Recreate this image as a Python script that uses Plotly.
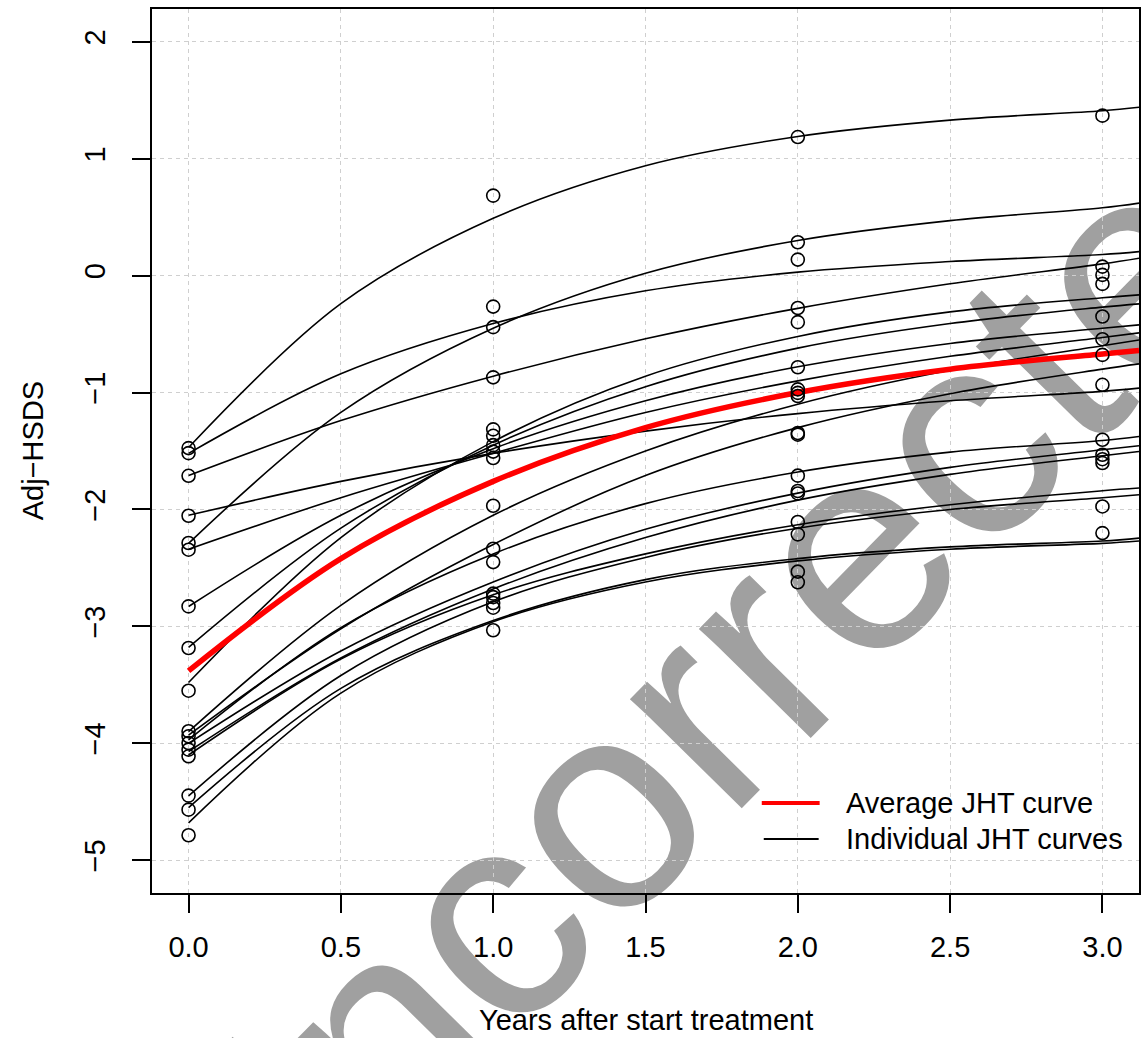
import base64
import plotly.graph_objects as go

# ---------------- data ----------------
obs_times = [0, 1, 2, 3]
obs_t0 = [-1.475, -1.518, -1.712, -2.054, -2.287, -2.344, -2.829, -3.185, -3.550,
          -3.897, -3.940, -3.997, -4.054, -4.111, -4.447, -4.567, -4.786]
obs_t1 = [0.684, -0.265, -0.441, -0.87, -1.315, -1.37, -1.45, -1.505, -1.56,
          -1.968, -2.336, -2.450, -2.72, -2.75, -2.80, -2.84, -3.033]
obs_t2 = [1.185, 0.285, 0.137, -0.277, -0.398, -0.784, -0.973, -1.003, -1.03,
          -1.346, -1.36, -1.711, -1.842, -1.863, -2.107, -2.213, -2.532, -2.623]
obs_t3 = [1.368, 0.077, 0.006, -0.071, -0.350, -0.544, -0.678, -0.934, -1.404,
          -1.532, -1.570, -1.603, -1.974, -2.202]

curve_times = [0, 0.5, 1, 1.5, 2, 2.5, 3, 3.12]
avg_curve = [-3.38, -2.42, -1.76, -1.30, -1.00, -0.80, -0.67, -0.64]

curve_a = [-1.47, -0.24, 0.49, 0.94, 1.19, 1.33, 1.41, 1.44]
curve_b = [-1.52, -0.84, -0.41, -0.13, 0.03, 0.12, 0.18, 0.205]
curve_c = [-1.71, -1.24, -0.86, -0.54, -0.28, -0.07, 0.10, 0.149]
curve_d = [-2.05, -1.76, -1.52, -1.33, -1.18, -1.07, -0.99, -0.962]
curve_e = [-2.29, -1.17, -0.45, 0.02, 0.30, 0.47, 0.58, 0.62]
curve_f = [-2.34, -1.90, -1.52, -1.17, -0.90, -0.69, -0.53, -0.49]
curve_g = [-2.83, -2.05, -1.48, -1.07, -0.78, -0.58, -0.45, -0.421]
curve_h = [-3.18, -2.16, -1.45, -0.95, -0.62, -0.41, -0.27, -0.242]
curve_i = [-3.48, -2.24, -1.42, -0.86, -0.52, -0.31, -0.19, -0.165]
curve_j1 = [-3.90, -2.82, -2.05, -1.50, -1.10, -0.81, -0.60, -0.55]
curve_j2 = [-3.93, -3.02, -2.30, -1.71, -1.30, -1.01, -0.80, -0.755]
curve_j3 = [-3.97, -3.01, -2.38, -1.95, -1.68, -1.51, -1.41, -1.376]
curve_j4 = [-4.00, -3.21, -2.62, -2.17, -1.86, -1.64, -1.49, -1.455]
curve_j5 = [-4.07, -3.27, -2.68, -2.24, -1.92, -1.70, -1.54, -1.504]
curve_j6 = [-4.10, -3.28, -2.73, -2.38, -2.13, -1.96, -1.84, -1.817]
curve_k1 = [-4.45, -3.42, -2.79, -2.41, -2.16, -2.00, -1.90, -1.874]
curve_k2 = [-4.55, -3.53, -2.95, -2.60, -2.42, -2.32, -2.27, -2.245]
curve_k3 = [-4.68, -3.57, -2.96, -2.62, -2.44, -2.34, -2.29, -2.27]

individual_curves = [curve_a, curve_b, curve_c, curve_d, curve_e, curve_f, curve_g,
                     curve_h, curve_i, curve_j1, curve_j2, curve_j3, curve_j4,
                     curve_j5, curve_j6, curve_k1, curve_k2, curve_k3]

x_ticks = [0, 0.5, 1, 1.5, 2, 2.5, 3]
x_tick_labels = ["0.0", "0.5", "1.0", "1.5", "2.0", "2.5", "3.0"]
y_ticks = [-5, -4, -3, -2, -1, 0, 1, 2]
y_tick_labels = ["\u22125", "\u22124", "\u22123", "\u22122", "\u22121", "0", "1", "2"]

legend_labels = ["Average JHT curve", "Individual JHT curves"]
x_title = "Years after start treatment"
y_title = "Adj\u2212HSDS"
watermark = "Uncorrected"

# ---------------- figure ----------------
W, H = 1142, 1038
ML, MR, MT, MB = 152, 1, 9, 145
PW, PH = W - ML - MR, H - MT - MB
FONT = "Liberation Sans, Arial, Helvetica, sans-serif"


def px_x(p):
    return (p - ML) / PW


def px_y(p):
    return (H - MB - p) / PH


fig = go.Figure()

for cv in individual_curves:
    fig.add_trace(go.Scatter(x=curve_times, y=cv, mode="lines",
                             line=dict(color="black", width=1.6, shape="spline"),
                             showlegend=False, hoverinfo="skip"))

fig.add_trace(go.Scatter(x=curve_times, y=avg_curve, mode="lines",
                         line=dict(color="#ff0000", width=5.5, shape="spline"),
                         showlegend=False))

for t, vals in zip(obs_times, [obs_t0, obs_t1, obs_t2, obs_t3]):
    fig.add_trace(go.Scatter(x=[t] * len(vals), y=vals, mode="markers",
                             marker=dict(symbol="circle-open", size=13, color="black",
                                         line=dict(width=1.6, color="black")),
                             showlegend=False))

# watermark as a background image (drawn below the traces)
cx, cy, fs, ang = 753.5, 686, 296, 45.5
svg = (f'<svg xmlns="http://www.w3.org/2000/svg" width="{W}" height="{H}" '
       f'viewBox="0 0 {W} {H}"><text x="{cx}" y="{cy}" font-family="{FONT}" '
       f'font-size="{fs}" fill="#a0a0a0" text-anchor="middle" dominant-baseline="middle" '
       f'transform="rotate({-ang} {cx} {cy})">{watermark}</text></svg>')
uri = "data:image/svg+xml;base64," + base64.b64encode(svg.encode()).decode()
fig.add_layout_image(dict(source=uri, xref="paper", yref="paper",
                          x=-ML / PW, y=1 + MT / PH, sizex=W / PW, sizey=H / PH,
                          xanchor="left", yanchor="top", sizing="stretch",
                          layer="below"))

axis_common = dict(showline=True, mirror=True, linecolor="black", linewidth=1.5,
                   ticks="outside", ticklen=18, tickwidth=1.5, tickcolor="black",
                   showgrid=True, gridcolor="#cfcfcf", gridwidth=1.2,
                   griddash="4px,4px", zeroline=False,
                   tickfont=dict(family=FONT, size=29, color="black"))

fig.update_xaxes(range=[-0.12, 3.12], tickvals=x_ticks, ticktext=x_tick_labels,
                 ticklabelstandoff=9, **axis_common)
fig.update_yaxes(range=[-5.28, 2.28], tickvals=y_ticks, ticktext=y_tick_labels,
                 tickangle=-90, ticklabelstandoff=16, **axis_common)

# manual legend (no box)
fig.add_shape(type="line", xref="paper", yref="paper",
              x0=px_x(763), x1=px_x(821), y0=px_y(803), y1=px_y(803),
              line=dict(color="#ff0000", width=4))
fig.add_shape(type="line", xref="paper", yref="paper",
              x0=px_x(765), x1=px_x(820), y0=px_y(839), y1=px_y(839),
              line=dict(color="black", width=1.8))
for lab, yy in zip(legend_labels, [803, 839]):
    fig.add_annotation(text=lab, xref="paper", yref="paper", x=px_x(845), y=px_y(yy),
                       xanchor="left", yanchor="middle", showarrow=False,
                       font=dict(family=FONT, size=29, color="black"))

fig.add_annotation(text=x_title, xref="paper", yref="paper", x=0.5, y=px_y(1020),
                   xanchor="center", yanchor="middle", showarrow=False,
                   font=dict(family=FONT, size=29, color="black"))
fig.add_annotation(text=y_title, xref="paper", yref="paper", x=px_x(33), y=0.5,
                   xanchor="center", yanchor="middle", showarrow=False, textangle=-90,
                   font=dict(family=FONT, size=29, color="black"))

fig.update_layout(width=W, height=H, margin=dict(l=ML, r=MR, t=MT, b=MB),
                  paper_bgcolor="white", plot_bgcolor="rgba(0,0,0,0)",
                  showlegend=False, font=dict(family=FONT))

fig.write_html("out.html")
